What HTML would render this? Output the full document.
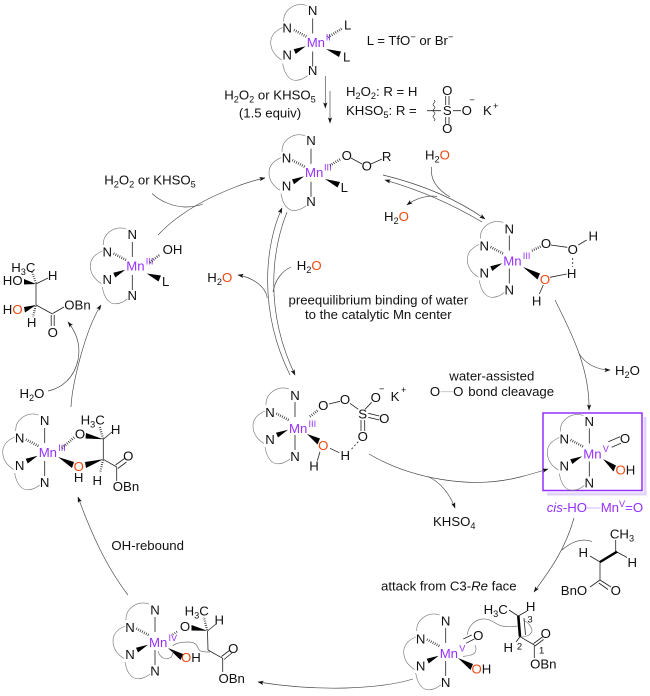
<!DOCTYPE html>
<html><head><meta charset="utf-8"><style>
html,body{margin:0;padding:0;background:#fff;width:650px;height:696px;overflow:hidden}
svg{display:block;filter:blur(.3px)}
text{font-family:"Liberation Sans",Arial,sans-serif;font-size:13.2px;fill:#111}
.m{text-anchor:middle}
.p,.p tspan{fill:#9530ff}
.o{fill:#ee4a14}
.s{font-size:9.2px}
.n{font-size:9.5px}
.b{stroke:#222;stroke-width:.8;fill:none}
.a{stroke:#444;stroke-width:.65;fill:none}
.l{stroke:#777;stroke-width:.65;fill:none}
.h{stroke:#222;stroke-width:2.6;stroke-dasharray:.7 1.5;fill:none}
.w{fill:#000;stroke:none}
</style></head><body>
<svg width="650" height="696" viewBox="0 0 650 696" xmlns="http://www.w3.org/2000/svg">
<defs>
<marker id="e" markerUnits="userSpaceOnUse" markerWidth="6" markerHeight="5" refX="5.5" refY="2.5" orient="auto"><path d="M0,.4 L6,2.5 L0,4.6 L1.3,2.5z" fill="#111"/></marker>
<marker id="f" markerUnits="userSpaceOnUse" markerWidth="6" markerHeight="5" refX="0.5" refY="2.5" orient="auto"><path d="M6,.4 L0,2.5 L6,4.6 L4.7,2.5z" fill="#111"/></marker>
<g id="c">
<path class="b" d="M0,-24V-9M0,9V24"/>
<path class="h" d="M-18.7,-12.5L-6,-5.8"/>
<polygon class="w" points="-7,3.7 -19,6.7 -17,11.5"/>
<path class="l" d="M-6,-37C-12,-39 -18,-38 -23,-34C-28,-30 -29,-26 -29,-21M-30,-15C-37,-12 -42,-7 -42,0C-42,8 -37,14 -31,17.5M-30,21C-29,27 -27,34 -21,37C-16,39 -10,37 -5,33"/>
</g>
</defs>

<!-- A -->
<g transform="translate(312.7,42.5)"><use href="#c"/><text class="m" y="-27.5">N</text><text class="m" y="32.5">N</text><text class="m" x="-25.5" y="-10">N</text><text class="m" x="-25.5" y="17">N</text><text class="p" x="-6" y="4.5">Mn</text><text class="p s" x="13" y="-2">II</text></g>
<path class="h" d="M328,37.3L342.3,28.3"/><polygon class="w" points="326,49 341,51.5 339,57"/>
<text class="m" x="347.7" y="29.5">L</text><text class="m" x="346.7" y="61.5">L</text>
<text x="366.7" y="45">L = TfO<tspan class="s" dy="-5">−</tspan><tspan dy="5"> or Br</tspan><tspan class="s" dy="-5">−</tspan></text>
<path class="a" d="M325.3,76V108" marker-end="url(#e)"/><path class="a" d="M330,91V123" marker-end="url(#e)"/>
<text class="m" x="270" y="99.5">H<tspan class="s" dy="3">2</tspan><tspan dy="-3">O</tspan><tspan class="s" dy="3">2</tspan><tspan dy="-3"> or KHSO</tspan><tspan class="s" dy="3">5</tspan></text>
<text class="m" x="270" y="117.5">(1.5 equiv)</text>
<text x="346" y="96">H<tspan class="s" dy="3">2</tspan><tspan dy="-3">O</tspan><tspan class="s" dy="3">2</tspan><tspan dy="-3">: R = H</tspan></text>
<text x="346" y="115">KHSO<tspan class="s" dy="3">5</tspan><tspan dy="-3">: R =</tspan></text>
<text class="m" x="447.3" y="95.2">O</text><text class="m" x="447.3" y="115.2">S</text><text class="m" x="447.3" y="132.8">O</text><text class="m" x="466.7" y="115.2">O</text>
<text class="s m" x="472" y="103">−</text><text x="483" y="115.2">K</text><text class="s" x="493" y="109">+</text>
<path class="b" d="M445.7,96V105M449,96V105M445.7,117V124M449,117V124M453,110.7H461M427,110.7H441"/>
<path class="l" style="stroke:#222" d="M434,100q2,1.5 0,3q-2,1.5 0,3q2,1.5 0,3q-2,1.5 0,3q2,1.5 0,3q-2,1.5 0,3q2,1.5 0,3"/>

<!-- B -->
<g transform="translate(311,172.7)"><use href="#c"/><text class="m" y="-27.5">N</text><text class="m" y="33.5">N</text><text class="m" x="-24.5" y="-10">N</text><text class="m" x="-24.5" y="18">N</text><text class="p" x="-6" y="4.5">Mn</text><text class="p s" x="13" y="-2">III</text></g>
<path class="h" d="M330,165.5L341,158.7"/><polygon class="w" points="325,179 340,182 337.5,187.5"/>
<text class="m" x="346.7" y="160.2">O</text><text class="m" x="366.7" y="170.5">O</text><text class="m" x="386.7" y="161.2">R</text><text class="m" x="344.3" y="192.2">L</text>
<path class="b" d="M351,158L362,164M371,164L382,159"/>
<text x="425" y="159.5">H<tspan class="s" dy="3">2</tspan><tspan class="o" dy="-3">O</tspan></text>
<text x="384" y="221">H<tspan class="s" dy="3">2</tspan><tspan class="o" dy="-3">O</tspan></text>
<path class="a" d="M383,175C420,184 455,198 485,219" marker-end="url(#e)"/>
<path class="a" d="M482,222C452,204 420,190 385,180" marker-end="url(#e)"/>
<path class="a" d="M431.5,167C430,180 438,190 450,197"/>
<path class="a" d="M437,196.5C428,195 416,198 407,205" marker-end="url(#e)"/>

<!-- C -->
<g transform="translate(132.3,266)"><use href="#c"/><text class="m" y="-27">N</text><text class="m" y="34">N</text><text class="m" x="-25" y="-9.5">N</text><text class="m" x="-25" y="18">N</text><text class="p" x="-6" y="4.5">Mn</text><text class="p s" x="13.5" y="-1.5">III</text></g>
<path class="h" d="M150,262.5L159.3,255"/><polygon class="w" points="146.7,273.5 161,275.5 158.5,281.5"/>
<text class="m" x="172.5" y="254">OH</text><text class="m" x="165.7" y="286.2">L</text>
<text class="m" x="150" y="184.5">H<tspan class="s" dy="3">2</tspan><tspan dy="-3">O</tspan><tspan class="s" dy="3">2</tspan><tspan dy="-3"> or KHSO</tspan><tspan class="s" dy="3">5</tspan></text>
<path class="a" d="M158,235C172,220 190,208 210,198C225,191 245,182 265,178" marker-end="url(#e)"/>
<path class="a" d="M152,193.5C160,201 172,206.5 185,207C192,207 198,206 203,204"/>

<!-- diol product -->
<text class="m" x="23.3" y="271.8">H<tspan class="s" dy="3">3</tspan><tspan dy="-3">C</tspan></text>
<text class="m" x="52.7" y="280.2">H</text><text class="m" x="12.7" y="285.2">HO</text>
<text class="m" x="12.7" y="313.8">H<tspan class="o">O</tspan></text><text class="m" x="31.7" y="327.2">H</text>
<text class="m" x="52.7" y="337.2">O</text><text class="m" x="77.5" y="309.5">OBn</text>
<path class="b" d="M36,284V305M36,284L48,278M36,305L52.5,314M51.2,315V326M54.2,315V326M52.7,313.5L64,307"/>
<path class="h" d="M36,283L32,272" style="stroke-width:2.2"/><path class="h" d="M35.5,306L33,317" style="stroke-width:2.2"/>
<polygon class="w" points="36,284 24,279 24,284.5"/><polygon class="w" points="36,305 24,307 25,312.5"/>

<path class="a" d="M71,407C72,385 85,330 101,305" marker-end="url(#e)"/>
<path class="a" d="M48,391C62,388 74,378 78,360C81,345 76,332 68,322" marker-end="url(#e)"/>
<text x="19.5" y="398">H<tspan class="s" dy="3">2</tspan><tspan dy="-3">O</tspan></text>

<!-- D -->
<g transform="translate(44.7,452)"><use href="#c"/><text class="m" y="-27">N</text><text class="m" y="35">N</text><text class="m" x="-25" y="-9.5">N</text><text class="m" x="-25" y="18">N</text><text class="p" x="-6" y="5">Mn</text><text class="p s" x="13.5" y="-1">III</text></g>
<text class="m" x="80" y="438.5">O</text><text class="m o" x="78.7" y="471.2">O</text><text class="m" x="78.7" y="482.2">H</text>
<text class="m" x="92.7" y="424.5">H<tspan class="s" dy="3">3</tspan><tspan dy="-3">C</tspan></text><text class="m" x="115.7" y="433.8">H</text><text class="m" x="97.3" y="485.2">H</text>
<text class="m" x="128.3" y="460.5">O</text><text class="m" x="126" y="491.2">OBn</text>
<path class="h" d="M62,448L75,436.7"/>
<polygon class="w" points="58,457 74,462 72,468"/><polygon class="w" points="103.3,439.3 86,433 85.5,438.5"/><polygon class="w" points="103.3,459.3 85,462 86,468"/>
<path class="b" d="M103.3,439.3V459.3M103.3,439.3L112,432M103.3,459.3L116.7,467M115.5,465L124.5,458.5M117.8,468.5L126.5,462M116.7,467V481"/>
<path class="h" d="M103,438.5L99.5,426" style="stroke-width:2.2"/><path class="h" d="M103,460L100,473" style="stroke-width:2.2"/>
<text class="m" x="147.7" y="550">OH-rebound</text>
<path class="a" d="M128,595C105,565 90,530 78,497" marker-end="url(#e)"/>

<!-- E -->
<g transform="translate(155,641)"><use href="#c"/><text class="m" y="-26.5">N</text><text class="m" y="34.5">N</text><text class="m" x="-25" y="-9">N</text><text class="m" x="-25" y="18">N</text><text class="p" x="-6" y="6">Mn</text><text class="p s" x="13.5" y="0">IV</text></g>
<text class="m" x="185" y="631.2">O</text><text x="181" y="662"><tspan class="o">O</tspan>H</text>
<text class="m" x="196.7" y="615.5">H<tspan class="s" dy="3">3</tspan><tspan dy="-3">C</tspan></text><text class="m" x="219.3" y="624.5">H</text>
<text class="m" x="233.3" y="652.8">O</text><text class="m" x="231.7" y="682.8">OBn</text>
<path class="h" d="M172.7,634.5L177,631.7" style="stroke-width:2"/>
<polygon class="w" points="168,648 183,654 180.5,660"/><polygon class="w" points="207.3,630.7 191.5,625 191.5,630.5"/>
<path class="b" d="M207.5,631L208,650M207.5,631L216,624M208,650L222.7,658.3M221.5,656.5L230,650M224,659.5L232,653M222.7,658V672"/>
<path class="h" d="M207,630L204,617" style="stroke-width:2.2"/>
<path class="l" d="M158,651C160,658 166,661 171,657C173,655 173,653 173,651M172.5,646C176,643 183,642 188,642C194,642 197,644 198,648C199,652 204,652 210,652"/>
<path class="a" d="M413,679C380,689 320,692 258,682" marker-end="url(#e)"/>

<!-- F -->
<g transform="translate(445.7,652)"><use href="#c"/><text class="m" y="-26.5">N</text><text class="m" y="35">N</text><text class="m" x="-25" y="-8.5">N</text><text class="m" x="-25" y="18.5">N</text><text class="p" x="-6" y="6">Mn</text><text class="p s" x="13.5" y="-0.5">V</text></g>
<text class="m" x="478.3" y="640.2">O</text><text x="471.5" y="673.5"><tspan class="o">O</tspan>H</text>
<text class="m" x="495.7" y="613.8">H<tspan class="s" dy="3">3</tspan><tspan dy="-3">C</tspan></text><text class="m" x="530.7" y="611.2">H</text>
<text class="m n" x="530" y="622.5">3</text><text class="m" x="508.3" y="651.8">H</text><text class="m n" x="519.5" y="649.5">2</text><text class="m n" x="541.7" y="653.5">1</text>
<text class="m" x="545.7" y="637.8">O</text><text class="m" x="543.3" y="668.5">OBn</text>
<path class="b" d="M463.3,639L471.7,635M466,643.3L474.3,639"/>
<polygon class="w" points="458,658 473,664 470.5,670"/>
<path class="b" d="M509,610L518.3,616M518.3,616L527,611M520,636.7L516,642M520,636.7L534.3,645M533.5,643.5L542.5,637M535,646L543.5,639.5M534.3,645V658M524,618L525.5,635"/>
<path d="M518.3,616L520,636.7" stroke="#000" stroke-width="2.6" fill="none"/>
<path class="l" d="M467.3,635C468,627 474,620 482,619C491,618 496,625 502,626C508,627 513,627 518,626M523,620C528,622 532,627 532,631C531,635 526,637 521,637M475,645C477,649 476,654 471,655C468,656 465,656 463,656.5"/>
<path class="a" d="M574,518C565,550 550,570 534,592" marker-end="url(#e)"/>
<path class="a" d="M592,541.5C583,538 572,541 562,550"/>
<text class="m" x="622" y="538.5">CH<tspan class="s" dy="3">3</tspan></text>
<text class="m" x="632.3" y="566.8">H</text><text class="m" x="583.3" y="557.2">H</text><text class="m" x="615.7" y="595.2">O</text><text class="m" x="574" y="595.2">BnO</text>
<path class="b" d="M615.7,540V551.7M617,552L627,557.5M600,562L590,556M600,562V580M600,580L611,587M598.8,583L608,589.5M600,580L590,587"/>
<path d="M600,562L617,551.7" stroke="#000" stroke-width="2.4" fill="none"/>
<text x="381" y="590.5">attack from C3-<tspan font-style="italic">Re</tspan> face</text>

<!-- G -->
<g transform="translate(509.3,259.5)"><use href="#c"/><text class="m" y="-26">N</text><text class="m" y="35">N</text><text class="m" x="-25" y="-9">N</text><text class="m" x="-25" y="18">N</text><text class="p" x="-6" y="6">Mn</text><text class="p s" x="13.5" y="-0.5">III</text></g>
<text class="m" x="546" y="247.8">O</text><text class="m" x="572.7" y="253.8">O</text><text class="m" x="593.3" y="240.5">H</text><text class="m" x="571.7" y="277.8">H</text>
<text class="m o" x="545" y="283.8">O</text><text class="m" x="536.7" y="305.5">H</text>
<path class="h" d="M532,250.7L541.7,246"/>
<polygon class="w" points="523,267 540,273.5 537.5,279.5"/>
<path class="b" d="M550.7,245L567.3,247.3M578.3,245L586.7,240M550,277.3L566.7,274M543.3,285L539.3,294"/>
<path class="b" d="M572.7,258V267" stroke-dasharray="2 2"/>
<path class="a" d="M555,300C567,325 590,365 589,410" marker-end="url(#e)"/>
<path class="a" d="M579.3,354C585,363 596,370 610,370" marker-end="url(#e)"/>
<text x="615" y="375">H<tspan class="s" dy="3">2</tspan><tspan dy="-3">O</tspan></text>

<!-- H with box -->
<path d="M645,417V494H547" stroke="#e2d4ff" stroke-width="3" fill="none"/>
<rect x="543" y="413" width="99" height="77.5" fill="#fff" stroke="#9530ff" stroke-width="1.5"/>
<g transform="translate(589.3,452.5)"><use href="#c"/><text class="m" y="-26.5">N</text><text class="m" y="35">N</text><text class="m" x="-25" y="-9">N</text><text class="m" x="-25" y="18">N</text><text class="p" x="-6" y="6">Mn</text><text class="p s" x="13.5" y="-0.5">V</text></g>
<text class="m" x="625" y="442.8">O</text><text x="615.5" y="474.5"><tspan class="o">O</tspan>H</text>
<path class="b" d="M608.3,441.7L620,436.7M611.7,447.3L621,443.3"/>
<polygon class="w" points="603,459 616,465.5 613.5,471.5"/>
<text class="p" x="546.7" y="512"><tspan font-style="italic">cis</tspan>-HO</text>
<path d="M587,508H600.7" stroke="#c9a8ff" stroke-width=".8"/>
<text class="p" x="600.7" y="512">Mn<tspan class="s" dy="-5">V</tspan><tspan dy="5">=O</tspan></text>

<!-- I -->
<g transform="translate(295,426)"><use href="#c"/><text class="m" y="-26">N</text><text class="m" y="35">N</text><text class="m" x="-25" y="-9">N</text><text class="m" x="-25" y="18">N</text><text class="p" x="-6" y="7">Mn</text><text class="p s" x="13.5" y="1">III</text></g>
<text class="m" x="323.3" y="409.8">O</text><text class="m" x="345" y="403.8">O</text><text class="m" x="362.7" y="418.5">S</text><text class="m" x="375.7" y="401.8">O</text><text class="s m" x="381.7" y="392">−</text>
<text class="m" x="384.3" y="422.8">O</text><text class="m" x="362.7" y="441.2">O</text><text class="m" x="345.3" y="460.2">H</text><text class="m o" x="323.3" y="449.8">O</text><text class="m" x="314" y="470.5">H</text>
<text class="m" x="395" y="401.2">K</text><text class="s" x="401" y="393">+</text>
<path class="h" d="M310,416.5L318.3,410"/>
<polygon class="w" points="307,434 320,438.5 317.5,444.5"/>
<path class="b" d="M329,404L340,401.3M350,403.3L358.3,409.3M365,409.3L371.7,402.3M368.3,413.3L379.3,416M368.3,417.3L379.3,420M361,420V431M364.7,420V431M330,448.3L339.3,452.7M320,451.7L317.3,460.7"/>
<path class="b" d="M358.3,441.7L350.7,450" stroke-dasharray="2 2"/>
<path class="a" d="M282,208C265,245 258,310 290,375" marker-start="url(#f)"/>
<path class="a" d="M287,212C272,250 264,310 295,375" marker-end="url(#e)"/>
<path class="a" d="M267.3,298C266,288 255,278 238,275" marker-end="url(#e)"/>
<path class="a" d="M291,267C282,271 275,280 273,292"/>
<text x="207.3" y="282">H<tspan class="s" dy="3">2</tspan><tspan class="o" dy="-3">O</tspan></text>
<text x="296.7" y="270">H<tspan class="s" dy="3">2</tspan><tspan class="o" dy="-3">O</tspan></text>
<text class="m" x="378.3" y="304.5">preequilibrium binding of water</text>
<text class="m" x="378.3" y="319">to the catalytic Mn center</text>
<text x="449.3" y="380.5">water-assisted</text>
<text class="m" x="435" y="396.2">O</text><path d="M440.5,391.7H453" stroke="#bbb" stroke-width=".8"/><text class="m" x="458.3" y="396.2">O</text><text x="468.3" y="396.2">bond cleavage</text>
<path class="a" d="M369,454C410,478 470,490 520,477C530,474.5 540,471.5 548,469" marker-end="url(#e)"/>
<path class="a" d="M428,476.5C440,482 450,494 455,508" marker-end="url(#e)"/>
<text x="433" y="526">KHSO<tspan class="s" dy="3">4</tspan></text>
</svg>
</body></html>
